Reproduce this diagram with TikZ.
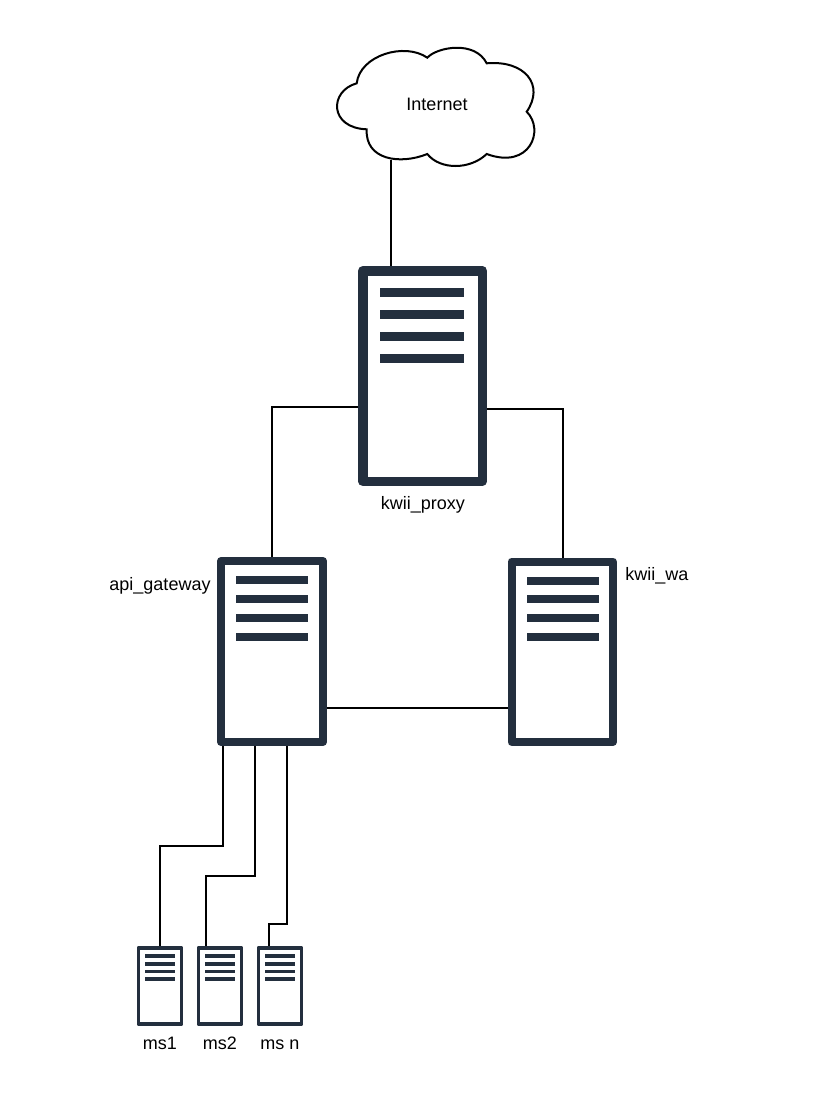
\documentclass[tikz,border=0pt]{standalone}
\usepackage{fontspec}
\setmainfont{Liberation Sans}
\definecolor{srv}{RGB}{35,47,62}
\tikzset{
  conn/.style={draw=black,line width=2pt},
  lbl/.style={inner sep=0pt,anchor=base,font=\fontsize{18}{20}\selectfont,text=black},
  bar/.style={fill=srv},
}
% name, left, top, right, bottom, thickness, bar left, bar right, bar tops (list)
\newcommand{\serverbox}[9]{%
  \node[draw=srv,fill=white,line width=#6pt,line join=round,inner sep=0pt,
        minimum width={#4-#2-#6},minimum height={#5-#3-#6}]
        (#1) at ({(#2+#4)/2},{(#3+#5)/2}) {};
  \foreach \t in {#9}{\fill[bar] (#7,\t) rectangle (#8,\t+\barh);}
}
\newcommand{\barh}{9}
\begin{document}
\begin{tikzpicture}[x=1pt,y=-1pt]
\useasboundingbox (0,0) rectangle (817,1096);
% cloud outline
\draw[line width=2pt,draw=black,fill=white,line join=miter]
  (356.7,83.3) .. controls (360,55) and (405,42) .. (427.3,57.7)
  .. controls (437,47) and (475,40) .. (486.7,63.3)
  .. controls (525,60) and (545,85) .. (526.7,111.7)
  .. controls (545,130) and (530,170) .. (486.7,154)
  .. controls (470,170) and (440,170) .. (427.3,154)
  .. controls (400,165) and (365,160) .. (366.7,129.3)
  .. controls (329,128) and (329,91) .. (356.7,83.3) -- cycle;
\node[lbl] (cloud) at (437,110.2) {Internet};
\coordinate (cloudfoot) at (391,160);
% servers
\serverbox{proxy}{358}{266}{487}{486}{9.5}{380.3}{464.3}{288,310,332,354}
\renewcommand{\barh}{8}
\serverbox{api}{217}{557}{327}{746}{8}{236}{308}{576,595,614,632.7}
\serverbox{wa}{507.5}{557.5}{617}{746}{8}{526.7}{598.7}{576.7,595.3,614,632.7}
\renewcommand{\barh}{3.8}
\serverbox{msa}{136.7}{946}{183.3}{1026}{3.6}{145}{175}{954,962,969.5,977}
\serverbox{msb}{196.7}{946}{243.3}{1026}{3.6}{205}{235}{954,962,969.5,977}
\serverbox{msc}{256.7}{946}{303.3}{1026}{3.6}{265}{295}{954,962,969.5,977}
% connectors
\draw[conn] (cloudfoot) -- (cloudfoot |- proxy.north);
\draw[conn] ([yshift=-31pt]proxy.west) -| (api.north);
\draw[conn] ([yshift=-33pt]proxy.east) -| ([xshift=0.75pt]wa.north);
\draw[conn] ([yshift=-56.5pt]api.east) -- ([yshift=-56.5pt]api.east -| wa.west);
\draw[conn] ([xshift=-49pt]api.south) -- ++(0,100) -| (msa.north);
\draw[conn] ([xshift=-17pt]api.south) -- ++(0,130) -| ([xshift=-14pt]msb.north);
\draw[conn] ([xshift=15pt]api.south) -- ++(0,178) -| ([xshift=-11pt]msc.north);
% labels
\node[lbl] (lproxy) at (423,509.3) {kwii\_proxy};
\node[lbl] (lapi) at (160,590.5) {api\_gateway};
\node[lbl] (lwa) at (657,580) {kwii\_wa};
\node[lbl] (lms1) at (160,1049.3) {ms1};
\node[lbl] (lms2) at (220,1049.3) {ms2};
\node[lbl] (lmsn) at (280,1049.3) {ms n};
\end{tikzpicture}
\end{document}
